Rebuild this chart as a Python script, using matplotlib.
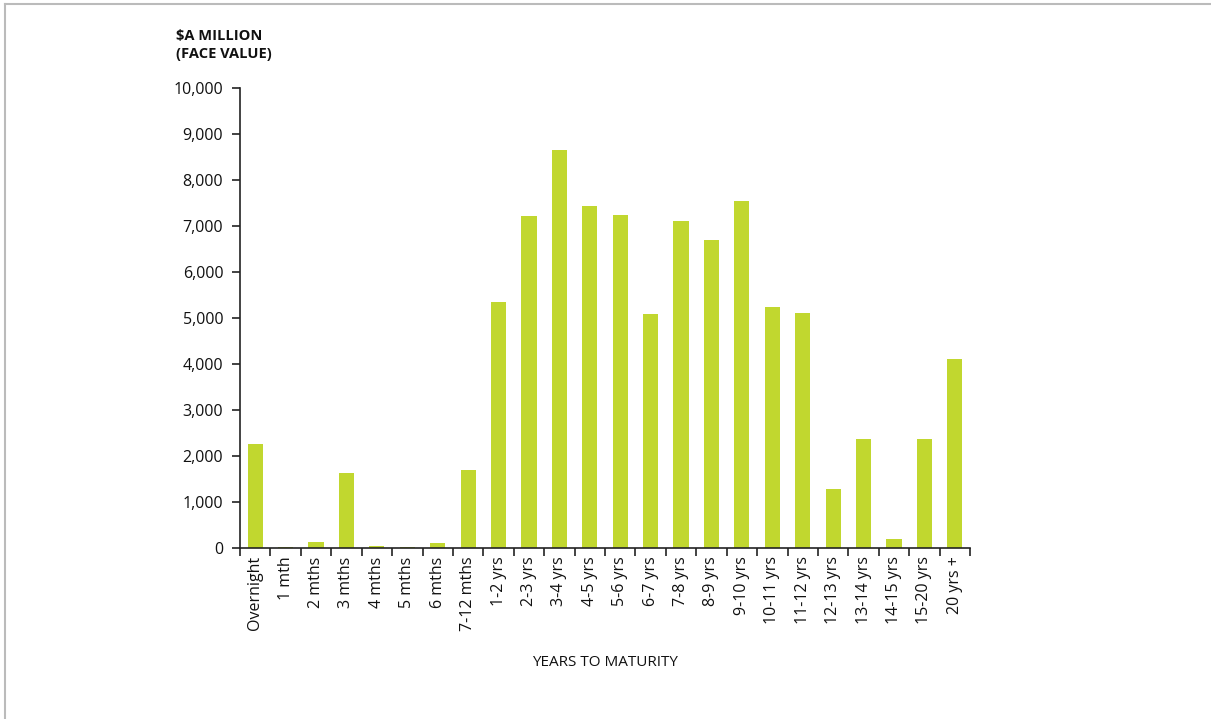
# Government bonds outstanding by years to maturity

import numpy as np
import matplotlib.pyplot as plt
from matplotlib.lines import Line2D

plt.rcParams['font.family'] = ['Open Sans', 'DejaVu Sans']

categories = ["Overnight", "1 mth", "2 mths", "3 mths", "4 mths", "5 mths",
              "6 mths", "7-12 mths", "1-2 yrs", "2-3 yrs", "3-4 yrs", "4-5 yrs",
              "5-6 yrs", "6-7 yrs", "7-8 yrs", "8-9 yrs", "9-10 yrs", "10-11 yrs",
              "11-12 yrs", "12-13 yrs", "13-14 yrs", "14-15 yrs", "15-20 yrs",
              "20 yrs +"]
values = [2270, 30, 120, 1630, 45, 30, 100, 1700, 5350, 7220, 8650, 7440,
          7240, 5090, 7110, 6700, 7540, 5240, 5110, 1280, 2370, 200, 2370, 4110]
y_ticks = list(range(0, 10001, 1000))

bar_color = "#c1d72f"

fig = plt.figure(figsize=(12.11, 7.19), dpi=100)
ax = fig.add_axes([240 / 1211, 1 - 548 / 719, 730 / 1211, 460 / 719])

x = np.arange(len(categories))
ax.bar(x, values, width=0.5, color=bar_color, linewidth=0)

ax.set_xlim(-0.5, len(categories) - 0.5)
ax.set_ylim(0, 10000)

# category labels at bar centres, tick marks at boundaries
ax.set_xticks(x)
ax.set_xticklabels(categories, rotation=90, fontsize=11.5, color="#111111")
ax.tick_params(axis="x", which="major", length=0, pad=6)
ax.set_xticks(np.arange(-0.5, len(categories)), minor=True)
ax.tick_params(axis="x", which="minor", length=6, width=1.2, direction="out", color="#222222")

ax.set_yticks(y_ticks)
ax.set_yticklabels([f"{v:,}" for v in y_ticks], fontsize=11.5, color="#111111")
ax.tick_params(axis="y", length=6, width=1.2, direction="out", color="#222222", pad=6)

for side in ["top", "right"]:
    ax.spines[side].set_visible(False)
for side in ["left", "bottom"]:
    ax.spines[side].set_linewidth(1.2)
    ax.spines[side].set_color("#222222")

# unit label and axis title
fig.text(176 / 1211, 1 - 45 / 719, "$A MILLION\n(FACE VALUE)", fontsize=10.5,
         fontweight="bold", ha="left", va="center", linespacing=1.35, color="#111111")
fig.text(605 / 1211, 1 - 662 / 719, "YEARS TO MATURITY", fontsize=11,
         ha="center", va="center", color="#111111")

# panel border on top and left
fig.add_artist(Line2D([5 / 1211, 1], [1 - 4 / 719, 1 - 4 / 719],
                      transform=fig.transFigure, color="#bbbbbb", linewidth=1.5))
fig.add_artist(Line2D([5 / 1211, 5 / 1211], [0, 1 - 4 / 719],
                      transform=fig.transFigure, color="#bbbbbb", linewidth=1.5))

fig.savefig("out.png", dpi=100)
